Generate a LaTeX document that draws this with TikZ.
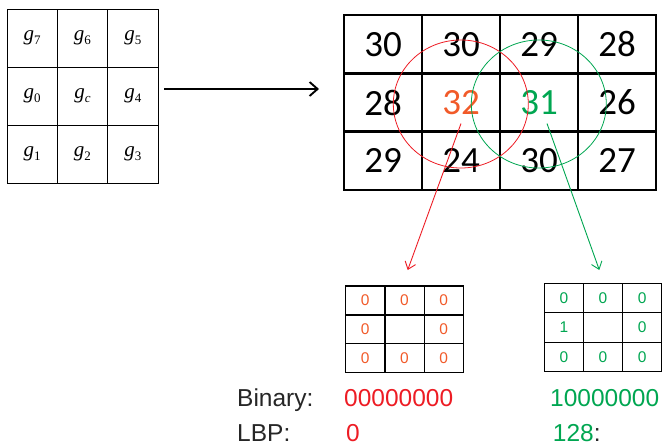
\documentclass[tikz,border=0pt]{standalone}
\usepackage{fontspec}
\setmainfont{Liberation Sans}
\newfontfamily\calib{Carlito}
\newfontfamily\tms{Liberation Serif}
\usetikzlibrary{arrows.meta,shapes.geometric}
\definecolor{lbpred}{HTML}{ED1C24}
\definecolor{lbporange}{HTML}{F15A29}
\definecolor{lbpgreen}{HTML}{00A651}
% g with a subscript, for the neighbourhood template
\newcommand{\gpix}[1]{{\tms\fontsize{21}{21}\selectfont\textit{g}\raisebox{-4pt}{\fontsize{13}{13}\selectfont #1}}}
\tikzset{
  tcell/.style={draw, line width=0.8pt, minimum width=50.33pt, minimum height=58pt, inner sep=0pt},
  bcell/.style={draw, line width=2.4pt, minimum width=78pt, minimum height=58.33pt, inner sep=0pt,
                font=\calib\fontsize{37}{37}\selectfont},
  scell/.style={draw, line width=1.2pt, minimum width=39.2pt, minimum height=28.9pt, inner sep=0pt,
                font=\fontsize{15.5}{15.5}\selectfont},
  gcell/.style={scell, minimum width=39.13pt, minimum height=29.47pt},
  ring/.style={ellipse, draw, line width=0.8pt, minimum width=135pt, minimum height=128pt, inner sep=0pt},
  label/.style={anchor=base west, inner sep=0pt, font=\fontsize{24.5}{24.5}\selectfont},
  thin arrow/.style={line width=0.9pt, -{Straight Barb[length=7pt,width=11pt]}},
}
\begin{document}
\begin{tikzpicture}[x=1pt,y=-1pt]
\useasboundingbox (0,0) rectangle (663,445);

% neighbourhood template
\foreach \c/\r/\lab in {0/0/7,1/0/6,2/0/5,0/1/0,1/1/\textit{c},2/1/4,0/2/1,1/2/2,2/2/3}
  \node[tcell] (t\c\r) at ({7+50.33*(\c+0.5)},{9+58*(\r+0.5)}) {\gpix{\lab}};

% grey-level image patch
\foreach \c/\r/\v in {0/0/30,1/0/30,2/0/29,3/0/28,0/1/28,3/1/26,0/2/29,1/2/24,2/2/30,3/2/27}
  \node[bcell] (b\c\r) at ({344+78*(\c+0.5)},{15+58.33*(\r+0.5)}) {\v};
\node[bcell, text=lbporange] (b11) at (461,102.5) {32};
\node[bcell, text=lbpgreen] (b21) at (539,102.5) {31};

% 3x3 neighbourhoods around the two centres
\node[ring, draw=lbpred] (redring) at (460.8,104) {};
\node[ring, draw=lbpgreen] (greenring) at (538.8,104) {};

% template -> patch
\coordinate (arrA) at (164,89);
\coordinate (arrB) at (319,89);
\draw[line width=1.9pt, -{Straight Barb[length=8pt,width=14pt]}] (arrA) -- (arrB);

% thresholded codes
\foreach \c/\r in {0/0,1/0,2/0,0/1,2/1,0/2,1/2,2/2}
  \node[scell, text=lbporange] (r\c\r) at ({345.7+39.2*(\c+0.5)},{286+28.9*(\r+0.5)}) {0};
\node[scell] (r11) at ({345.7+39.2*1.5},{286+28.9*1.5}) {};

\foreach \c/\r/\v in {0/0/0,1/0/0,2/0/0,0/1/1,2/1/0,0/2/0,1/2/0,2/2/0}
  \node[gcell, text=lbpgreen] (q\c\r) at ({544.3+39.13*(\c+0.5)},{283.3+29.47*(\r+0.5)}) {\v};
\node[gcell] (q11) at ({544.3+39.13*1.5},{283.3+29.47*1.5}) {};

% centre -> code arrows
\coordinate (redtip) at (407.7,270);
\coordinate (greentip) at (599.3,270);
\draw[thin arrow, draw=lbpred] ([shift={(0,21)}]b11.center) -- (redtip);
\draw[thin arrow, draw=lbpgreen] ([shift={(8,21)}]b21.center) -- (greentip);

% binary strings and LBP values
\node[label, text=black!85] (binlab) at (237,406) {Binary:};
\node[label, text=black!85] (lbplab) at (237,441) {LBP:};
\node[label, text=lbpred] (redbin) at (344,406) {00000000};
\node[label, text=lbpred] (redval) at (346,441) {0};
\node[label, text=lbpgreen] (greenbin) at (550,406) {10000000};
\node[label, text=lbpgreen] (greenval) at (552.7,441) {128\textcolor{black!85}{:}};
\end{tikzpicture}
\end{document}
